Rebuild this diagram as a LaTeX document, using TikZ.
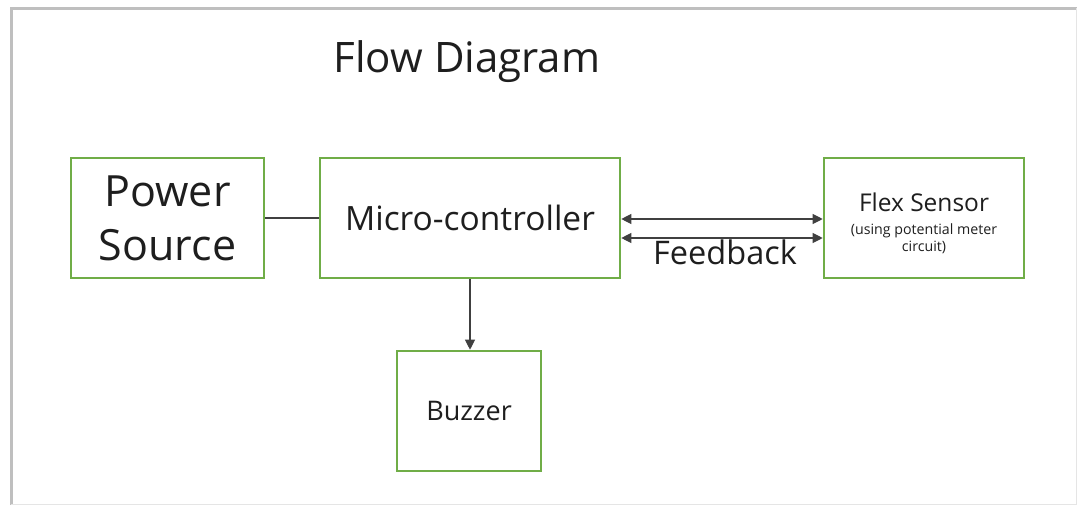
\documentclass[tikz,border=0pt]{standalone}
\usepackage{fontspec}
\setmainfont{Open Sans}
\usetikzlibrary{arrows.meta,positioning}
\definecolor{boxgreen}{HTML}{70AD47}
\definecolor{inkgray}{HTML}{1E1E1E}
\tikzset{
  block/.style={draw=boxgreen, line width=2.6pt, minimum height=120pt, align=center, text=inkgray, inner sep=2pt},
  link/.style={line width=1.1pt, draw=black!75},
  arrow/.style={link, -{Triangle[length=10pt,width=10pt]}},
  twoway/.style={link, {Triangle[length=10pt,width=10pt]}-{Triangle[length=10pt,width=10pt]}},
}
\begin{document}
\begin{tikzpicture}[x=1pt, y=-1pt]
  \useasboundingbox (0,0) rectangle (1078,506);

  % Frame with shadow
  \draw[line width=3pt, black!25] (11,505) -- (11,8) -- (1077,8);
  \draw[line width=0.8pt, black!10] (11,504) -- (1076,504) -- (1076,8);

  % Title
  \node[text=inkgray, font=\fontsize{42}{50}\selectfont] (title) at (467,62) {Flow Diagram};

  % Blocks
  \node[block, minimum width=193pt, font=\fontsize{43}{54}\selectfont] (power) at (167.5,218) {Power\\Source};
  \node[block, minimum width=300pt, font=\fontsize{33.5}{40}\selectfont] (micro) at (470,218) {Micro-controller};
  \node[block, minimum width=200pt, font=\fontsize{14.2}{17.5}\selectfont] (flex) at (924,218)
    {\rule{0pt}{30pt}{\fontsize{24.5}{28}\selectfont Flex Sensor}\\[5pt]
     (using potential meter\\
     circuit)};
  \node[block, minimum width=144pt, font=\fontsize{27}{32}\selectfont] (buzzer) at (469,411) {Buzzer};

  % Connectors
  \draw[link] (power) -- (micro);
  \draw[twoway] ([yshift=-1pt]micro.east) -- ([yshift=-1pt]flex.west);
  \draw[twoway] ([yshift=-20pt]micro.east) -- ([yshift=-20pt]flex.west)
    node[midway, below=-2pt, xshift=3pt, text=inkgray, font=\fontsize{32.5}{38}\selectfont] (feedback) {Feedback};
  \draw[arrow] (micro.south) -- (micro.south |- buzzer.north);
\end{tikzpicture}
\end{document}
